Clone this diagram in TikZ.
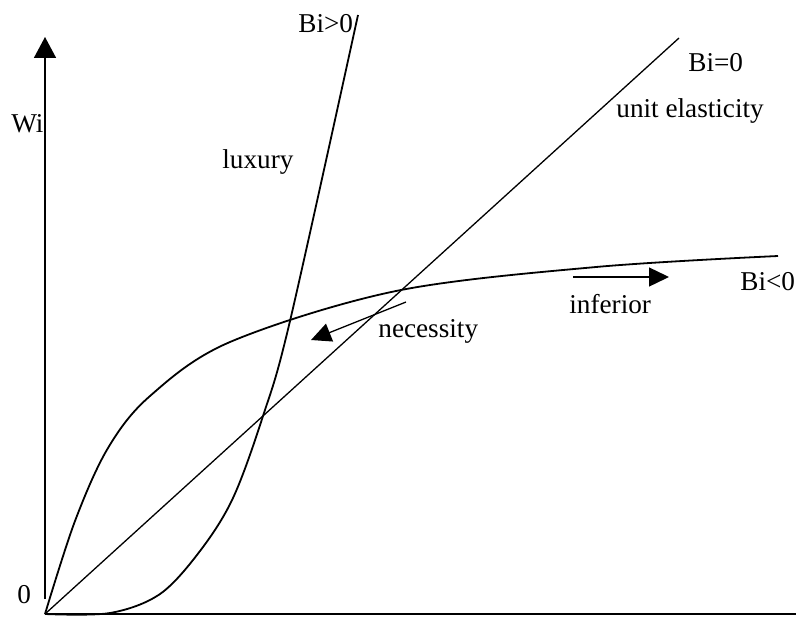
\documentclass[tikz,border=0pt]{standalone}
\usepackage{fontspec}
\setmainfont{Liberation Serif}
\usetikzlibrary{arrows.meta}

\begin{document}
\begin{tikzpicture}[x=0.5pt, y=-0.5pt, every node/.style={font=\fontsize{13.6}{16}\selectfont, anchor=base west, inner sep=0pt}, curve/.style={line width=0.9pt}, tip/.style={-{Triangle[length=10pt, width=9.5pt]}}]
  \useasboundingbox (0,0) rectangle (796,642);
  \coordinate (O) at (45,614);
  \coordinate (xend) at (796,614);
  \coordinate (ybot) at (45,599);
  \coordinate (ytop) at (45,37);
  \coordinate (unitend) at (679,38);
  \draw[line width=1pt] (O) -- (xend);
  \draw[line width=0.8pt, -{Triangle[length=10.5pt, width=11pt]}] (ybot) -- (ytop);
  \draw[line width=0.65pt] (O) -- (unitend);
  \draw[curve] plot[smooth, tension=0.55] coordinates {(45,614) (75,521) (108,448) (150,396) (230,342) (396,291) (596,267) (778,256)};
  \draw[curve] plot[smooth, tension=0.55] coordinates {(45,614) (110,613) (160,594) (200,551) (233,498) (263,416) (290,321) (358,15)};
  \coordinate (necfrom) at (406,302);
  \coordinate (necto) at (311,340);
  \coordinate (inffrom) at (573,277);
  \coordinate (infto) at (669,277);
  \draw[tip, line width=0.65pt] (necfrom) -- (necto);
  \draw[tip, line width=0.65pt] (inffrom) -- (infto);
  \node (wi) at (11,132) {Wi};
  \node (zero) at (17,603) {0};
  \node (bipos) at (298,33) {Bi>0};
  \node (luxury) at (222,168) {luxury};
  \node (bizero) at (688,72) {Bi=0};
  \node (unit) at (616,117) {unit elasticity};
  \node (necessity) at (378,337) {necessity};
  \node (inferior) at (569,313) {inferior};
  \node (bineg) at (740,290) {Bi<0};
\end{tikzpicture}
\end{document}
